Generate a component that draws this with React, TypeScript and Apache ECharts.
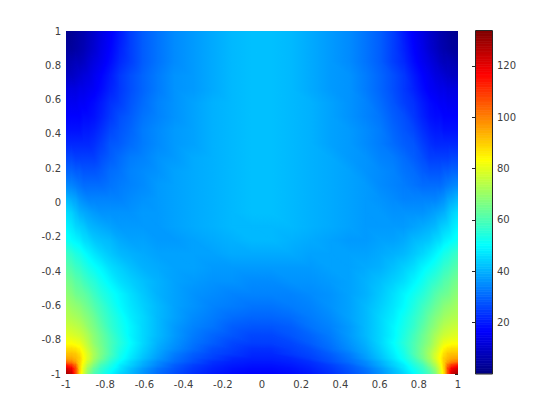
import React, { useEffect, useRef } from "react";
import * as echarts from "echarts";

const xNodes = [-1, -0.97, -0.95, -0.93, -0.91, -0.885, -0.855, -0.82, -0.775, -0.725, -0.67, -0.605, -0.53, -0.445, -0.35, -0.25, -0.15, -0.05, 0.05, 0.15, 0.25, 0.35, 0.445, 0.53, 0.605, 0.67, 0.725, 0.775, 0.82, 0.855, 0.885, 0.91, 0.93, 0.95, 0.97, 1];
const yNodes = [1, 0.895, 0.82, 0.74, 0.66, 0.58, 0.5, 0.42, 0.34, 0.26, 0.18, 0.1, 0.02, -0.06, -0.14, -0.22, -0.3, -0.38, -0.46, -0.535, -0.605, -0.67, -0.725, -0.775, -0.82, -0.855, -0.885, -0.91, -0.93, -0.95, -0.97, -1];
const colorMin = 0.2;
const colorMax = 133.6;
const jet = ["#000080", "#0000ff", "#0080ff", "#00ffff", "#80ff80", "#ffff00", "#ff8000", "#ff0000", "#800000"];

const values = [
  [2,3,4,5,6,8,10,13,16,20,25,29,32,35,37,39,41,42,42,41,39,37,35,32,29,25,20,16,13,10,8,6,5,4,3,2],
  [4,4,5,6,7,9,11,14,17,21,25,29,32,35,37,39,41,42,42,41,39,37,35,32,29,25,21,17,14,11,9,7,6,5,4,4],
  [6,7,8,8,9,11,13,15,18,22,25,29,32,35,37,39,41,42,42,41,39,37,35,32,29,25,22,18,15,13,11,9,8,8,7,6],
  [9,9,10,11,12,13,15,17,20,24,27,30,33,36,37,39,41,42,42,41,39,37,36,33,30,27,24,20,17,15,13,12,11,10,9,9],
  [13,13,13,14,14,15,16,18,21,24,27,30,33,36,37,39,41,42,42,41,39,37,36,33,30,27,24,21,18,16,15,14,14,13,13,13],
  [15,15,15,16,16,17,18,20,23,25,28,31,34,36,38,40,41,42,42,41,40,38,36,34,31,28,25,23,20,18,17,16,16,15,15,15],
  [17,17,17,17,18,18,19,21,24,27,29,32,34,36,38,40,41,42,42,41,40,38,36,34,32,29,27,24,21,19,18,18,17,17,17,17],
  [19,19,19,19,20,20,21,23,26,28,30,33,35,37,38,40,41,42,42,41,40,38,37,35,33,30,28,26,23,21,20,20,19,19,19,19],
  [22,22,22,22,22,22,23,25,28,29,31,33,35,37,38,40,41,42,42,41,40,38,37,35,33,31,29,28,25,23,22,22,22,22,22,22],
  [26,26,25,25,25,25,25,27,29,31,33,34,36,37,39,40,41,42,42,41,40,39,37,36,34,33,31,29,27,25,25,25,25,25,26,26],
  [30,30,29,29,28,28,28,29,31,32,34,35,36,38,39,40,41,42,42,41,40,39,38,36,35,34,32,31,29,28,28,28,29,29,30,30],
  [35,34,33,32,31,31,31,31,32,33,34,35,37,38,39,40,41,42,42,41,40,39,38,37,35,34,33,32,31,31,31,31,32,33,34,35],
  [41,39,38,36,35,34,34,34,34,34,35,36,37,38,39,40,41,42,42,41,40,39,38,37,36,35,34,34,34,34,34,35,36,38,39,41],
  [46,44,42,40,39,38,37,36,36,36,36,37,37,38,39,40,41,42,42,41,40,39,38,37,37,36,36,36,36,37,38,39,40,42,44,46],
  [49,47,45,44,43,41,40,39,38,37,37,37,37,38,39,40,41,41,41,41,40,39,38,37,37,37,37,38,39,40,41,43,44,45,47,49],
  [52,50,49,48,46,45,43,42,41,39,38,38,37,37,38,39,40,41,41,40,39,38,37,37,38,38,39,41,42,43,45,46,48,49,50,52],
  [58,56,54,53,51,49,47,45,43,41,40,39,38,38,38,38,39,39,39,39,38,38,38,38,39,40,41,43,45,47,49,51,53,54,56,58],
  [62,60,58,57,55,53,51,49,46,44,42,40,39,38,38,37,37,37,37,37,37,38,38,39,40,42,44,46,49,51,53,55,57,58,60,62],
  [66,64,62,61,59,57,55,52,49,46,44,42,40,38,37,36,36,35,35,36,36,37,38,40,42,44,46,49,52,55,57,59,61,62,64,66],
  [69,67,65,64,63,61,58,55,52,49,46,43,40,38,36,35,34,34,34,34,35,36,38,40,43,46,49,52,55,58,61,63,64,65,67,69],
  [72,70,69,68,66,64,61,58,54,50,47,44,41,38,36,34,33,32,32,33,34,36,38,41,44,47,50,54,58,61,64,66,68,69,70,72],
  [74,73,72,71,69,67,64,60,56,52,48,45,41,38,35,33,31,30,30,31,33,35,38,41,45,48,52,56,60,64,67,69,71,72,73,74],
  [77,76,75,74,72,69,66,62,57,53,49,45,41,37,34,32,29,28,28,29,32,34,37,41,45,49,53,57,62,66,69,72,74,75,76,77],
  [80,79,78,77,75,72,68,64,59,54,49,45,41,37,33,30,28,26,26,28,30,33,37,41,45,49,54,59,64,68,72,75,77,78,79,80],
  [83,83,82,81,78,74,69,65,60,55,50,45,40,36,32,29,26,25,25,26,29,32,36,40,45,50,55,60,65,69,74,78,81,82,83,83],
  [88,88,87,85,81,76,71,66,60,54,49,44,39,35,31,27,25,23,23,25,27,31,35,39,44,49,54,60,66,71,76,81,85,87,88,88],
  [92,92,91,88,83,78,72,66,60,53,48,43,38,33,29,26,24,22,22,24,26,29,33,38,43,48,53,60,66,72,78,83,88,91,92,92],
  [96,95,93,90,84,78,71,65,58,52,47,42,37,32,28,25,22,21,21,22,25,28,32,37,42,47,52,58,65,71,78,84,90,93,95,96],
  [103,100,96,90,83,76,69,62,56,50,45,40,35,31,27,23,21,20,20,21,23,27,31,35,40,45,50,56,62,69,76,83,90,96,100,103],
  [115,110,103,90,81,73,66,59,54,48,44,39,34,29,25,22,20,19,19,20,22,25,29,34,39,44,48,54,59,66,73,81,90,103,110,115],
  [123,118,108,90,79,70,63,57,52,47,42,37,32,28,24,21,19,18,18,19,21,24,28,32,37,42,47,52,57,63,70,79,90,108,118,123],
  [130,124,108,88,78,67,60,55,50,45,41,36,31,27,23,20,18,17,17,18,20,23,27,31,36,41,45,50,55,60,67,78,88,108,124,130],
];

const TEXT = "#404040";
const FONT = "DejaVu Sans";
const knots = jet.map((_, i) => colorMin + ((colorMax - colorMin) * i) / (jet.length - 1));

function hexToRgb(h: string) {
  return [parseInt(h.slice(1, 3), 16), parseInt(h.slice(3, 5), 16), parseInt(h.slice(5, 7), 16)];
}
function colorOf(v: number) {
  const c = Math.max(colorMin, Math.min(colorMax, v));
  let i = 0;
  while (i < knots.length - 2 && c > knots[i + 1]) i++;
  const f = (c - knots[i]) / (knots[i + 1] - knots[i]);
  const a = hexToRgb(jet[i]);
  const b = hexToRgb(jet[i + 1]);
  return `rgb(${a.map((x, k) => Math.round(x + (b[k] - x) * f)).join(",")})`;
}

function buildTriangles() {
  const out: number[][] = [];
  for (let r = 0; r < yNodes.length - 1; r++) {
    for (let c = 0; c < xNodes.length - 1; c++) {
      const A = [xNodes[c], yNodes[r], values[r][c]];
      const B = [xNodes[c + 1], yNodes[r], values[r][c + 1]];
      const C = [xNodes[c + 1], yNodes[r + 1], values[r + 1][c + 1]];
      const D = [xNodes[c], yNodes[r + 1], values[r + 1][c]];
      out.push([...A, ...B, ...C], [...A, ...C, ...D]);
    }
  }
  return out;
}

function buildBar() {
  const out: number[][] = [];
  const n = 134;
  for (let i = 0; i < n; i++) {
    const a = (colorMax - colorMin) * (i / n) + colorMin;
    const b = (colorMax - colorMin) * ((i + 1) / n) + colorMin;
    out.push([0, 1, a, b, (a + b) / 2]);
  }
  return out;
}

function renderTriangle(_p: any, api: any) {
  const pts = [0, 3, 6].map((k) => {
    const p = api.coord([api.value(k), api.value(k + 1)]);
    return { x: p[0], y: p[1], v: api.value(k + 2) };
  });
  const shape = { points: pts.map((p) => [p.x, p.y]) };
  const sorted = [...pts].sort((a, b) => a.v - b.v);
  const lo = sorted[0];
  const hi = sorted[2];
  let fill: any;
  if (hi.v - lo.v < 1e-6) {
    fill = colorOf(lo.v);
  } else {
    const [p, q, s] = pts;
    const det = (q.x - p.x) * (s.y - p.y) - (s.x - p.x) * (q.y - p.y);
    const gx = ((q.v - p.v) * (s.y - p.y) - (s.v - p.v) * (q.y - p.y)) / det;
    const gy = ((s.v - p.v) * (q.x - p.x) - (q.v - p.v) * (s.x - p.x)) / det;
    const g2 = gx * gx + gy * gy;
    const span = hi.v - lo.v;
    const stops = [{ offset: 0, color: colorOf(lo.v) }];
    knots.forEach((k) => {
      if (k > lo.v && k < hi.v) stops.push({ offset: (k - lo.v) / span, color: colorOf(k) });
    });
    stops.push({ offset: 1, color: colorOf(hi.v) });
    fill = new echarts.graphic.LinearGradient(
      lo.x, lo.y, lo.x + (gx * span) / g2, lo.y + (gy * span) / g2, stops, true
    );
  }
  return { type: "polygon", shape, style: { fill, stroke: fill, lineWidth: 1.5 } };
}

function renderCell(_p: any, api: any) {
  const p0 = api.coord([api.value(0), api.value(3)]);
  const p1 = api.coord([api.value(1), api.value(2)]);
  const color = api.visual("color");
  return {
    type: "rect",
    shape: { x: p0[0], y: p0[1], width: p1[0] - p0[0], height: p1[1] - p0[1] },
    style: { fill: color, stroke: color, lineWidth: 0.7 },
  };
}

export default function App() {
  const ref = useRef<HTMLDivElement>(null);
  useEffect(() => {
    const chart = echarts.init(ref.current!, undefined, { renderer: "svg" });
    const label = { color: TEXT, fontFamily: FONT, fontSize: 10 };
    chart.setOption({
      animation: false,
      backgroundColor: "#ffffff",
      grid: [
        { left: 66, top: 31, width: 392, height: 343 },
        { left: 475, top: 31, width: 17, height: 343 },
      ],
      xAxis: [
        {
          type: "value", gridIndex: 0, min: -1, max: 1, interval: 0.2,
          splitLine: { show: false }, axisLine: { show: false }, axisTick: { show: false },
          axisLabel: { ...label, margin: 5 },
        },
        { type: "value", gridIndex: 1, min: 0, max: 1, show: false },
      ],
      yAxis: [
        {
          type: "value", gridIndex: 0, min: -1, max: 1, interval: 0.2,
          splitLine: { show: false }, axisLine: { show: false },
          axisTick: {
            show: true, inside: true, length: 3, lineStyle: { color: "#262626" }, customValues: [1],
          },
          axisLabel: { ...label, margin: 5 },
        },
        {
          type: "value", gridIndex: 1, position: "right", min: 0, max: colorMax, interval: 20, z: 10,
          splitLine: { show: false }, axisLine: { show: false },
          axisTick: {
            show: true, inside: true, length: 3, lineStyle: { color: "#262626" },
            customValues: [20, 40, 60, 80, 100, 120],
          },
          axisLabel: { ...label, margin: 5, customValues: [20, 40, 60, 80, 100, 120] },
        },
      ],
      visualMap: {
        show: false, type: "continuous", min: colorMin, max: colorMax, dimension: 4,
        seriesIndex: [1], inRange: { color: jet },
      },
      series: [
        {
          type: "custom", xAxisIndex: 0, yAxisIndex: 0, clip: true, silent: true,
          encode: { x: [0, 3, 6], y: [1, 4, 7] }, renderItem: renderTriangle, data: buildTriangles(),
        },
        {
          type: "custom", xAxisIndex: 1, yAxisIndex: 1, clip: true, silent: true,
          encode: { x: [0, 1], y: [2, 3] }, renderItem: renderCell, data: buildBar(),
        },
      ],
      graphic: [
        {
          type: "rect", z: 100,
          shape: { x: 475.5, y: 30.5, width: 17, height: 343.5 },
          style: { fill: "none", stroke: "#262626", lineWidth: 1 },
        },
        {
          type: "line", z: 100,
          shape: { x1: 455, y1: 374.5, x2: 458, y2: 374.5 },
          style: { stroke: "#262626", lineWidth: 1 },
        },
      ],
    });
    return () => chart.dispose();
  }, []);
  return <div ref={ref} style={{ position: "absolute", left: 0, top: 0, width: 560, height: 420 }} />;
}
